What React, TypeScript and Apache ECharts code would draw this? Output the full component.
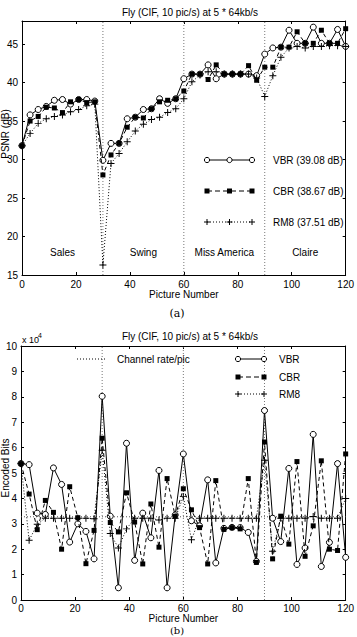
import React, { useEffect, useRef } from "react";
import * as echarts from "echarts";

const pictures = [0, 3, 6, 9, 12, 15, 18, 21, 24, 27, 30, 33, 36, 39, 42, 45, 48, 51, 54, 57, 60, 63, 66, 69, 72, 75, 78, 81, 84, 87, 90, 93, 96, 99, 102, 105, 108, 111, 114, 117, 120];

const psnrVBR = [31.8, 35.8, 36.5, 36.9, 37.7, 37.8, 37.2, 37.8, 37.8, 37.6, 29.9, 32.1, 32.1, 35.3, 35.5, 36.5, 36.6, 37.9, 37.3, 37.9, 40.5, 41.1, 41.1, 42.3, 40.5, 41.1, 41.1, 41.1, 41.1, 40.9, 43.7, 44.5, 44.6, 46.8, 45.1, 45.1, 47.2, 45.1, 45.1, 46.9, 44.7];
const psnrCBR = [31.8, 35.0, 35.6, 36.8, 36.7, 36.1, 37.5, 37.8, 37.4, 37.5, 28.0, 30.6, 32.1, 34.2, 35.5, 35.4, 36.6, 37.5, 37.7, 37.9, 38.9, 41.1, 41.1, 40.4, 42.3, 41.1, 41.1, 41.1, 42.2, 40.3, 42.0, 42.0, 44.6, 44.6, 46.6, 45.1, 45.1, 46.8, 45.1, 45.1, 47.0];
const psnrRM8 = [31.8, 33.4, 34.7, 35.3, 35.6, 35.8, 36.2, 36.5, 37.0, 37.2, 16.3, 29.5, 30.8, 32.3, 33.7, 34.6, 35.2, 35.5, 36.1, 36.6, 37.9, 40.1, 41.0, 41.4, 41.4, 41.1, 41.1, 41.1, 41.1, 40.6, 38.2, 40.9, 43.3, 44.5, 44.7, 44.5, 44.7, 44.7, 44.8, 44.8, 44.7];

const bitsVBR = [53700, 53300, 34200, 33700, 52000, 45500, 22800, 30000, 27000, 16200, 80200, 33000, 4800, 61700, 15600, 34200, 24500, 51000, 4800, 33500, 57500, 31200, 29200, 47300, 14600, 28200, 28600, 28500, 26600, 15200, 74600, 32200, 23000, 51800, 14000, 20500, 65200, 13200, 22700, 53700, 16800];
const bitsCBR = [53700, 41700, 27700, 39200, 34500, 20000, 44600, 32400, 14300, 27400, 63700, 30500, 26800, 42200, 30700, 14200, 37800, 20800, 47800, 33000, 43800, 35500, 28500, 14200, 47000, 27800, 28500, 28000, 47800, 14800, 62200, 16200, 33000, 22000, 54500, 17200, 29200, 54800, 20000, 19500, 57500];
const bitsRM8 = [53700, 23500, 29800, 32200, 32200, 32200, 32200, 32200, 32200, 32000, 59000, 26200, 20500, 28000, 32200, 32200, 32200, 31500, 32200, 32200, 40700, 23700, 32200, 32200, 32200, 32200, 32200, 32200, 32200, 32200, 55000, 19200, 32200, 32200, 32200, 32200, 32900, 32200, 32200, 32200, 40000];

const channelRate = 32768;
const sceneBoundaries = [30, 60, 90];
const sceneNames = ["Sales", "Swing", "Miss America", "Claire"];
const sceneCenters = [15, 45, 75, 105];

const titleText = "Fly (CIF, 10 pic/s) at 5 * 64kb/s";
const psnrLegend = ["VBR (39.08 dB)", "CBR (38.67 dB)", "RM8 (37.51 dB)"];
const bitsLegend = ["VBR", "CBR", "RM8"];

const FONT = "'Liberation Sans', Arial, Helvetica, sans-serif";
const PLUS = "path://M-0.14,-1L0.14,-1L0.14,-0.14L1,-0.14L1,0.14L0.14,0.14L0.14,1L-0.14,1L-0.14,0.14L-1,0.14L-1,-0.14L-0.14,-0.14Z";

export default function App() {
  const ref = useRef<HTMLDivElement>(null);
  useEffect(() => {
    const chart = echarts.init(ref.current!, null, { renderer: "svg" });
    const pair = (ys: number[]) => pictures.map((p, i) => [p, ys[i]]);

    const G1 = { left: 22, top: 21, width: 326, height: 254 };
    const G2 = { left: 21, top: 346, width: 327, height: 254 };

    const baseAxis = (extra: any) => ({
      type: "value",
      axisLine: { show: true, onZero: false, lineStyle: { color: "#000", width: 1 } },
      axisTick: { show: true, inside: true, length: 3, lineStyle: { color: "#000" } },
      splitLine: { show: false },
      axisLabel: { color: "#000", fontSize: 10, fontFamily: FONT, margin: 4 },
      ...extra,
    });
    const noLabel = { axisLabel: { show: false } };

    const xAxes = [
      baseAxis({ gridIndex: 0, min: 0, max: 120, interval: 20, position: "bottom", name: "Picture Number", nameLocation: "middle", nameGap: 13, nameTextStyle: { color: "#000", fontSize: 10, fontFamily: FONT } }),
      baseAxis({ gridIndex: 0, min: 0, max: 120, interval: 20, position: "top", ...noLabel }),
      baseAxis({ gridIndex: 1, min: 0, max: 120, interval: 20, position: "bottom", axisLabel: { color: "#000", fontSize: 10, fontFamily: FONT, margin: 3 }, name: "Picture Number", nameLocation: "middle", nameGap: 12, nameTextStyle: { color: "#000", fontSize: 10, fontFamily: FONT } }),
      baseAxis({ gridIndex: 1, min: 0, max: 120, interval: 20, position: "top", ...noLabel }),
    ];
    const yAxes = [
      baseAxis({ gridIndex: 0, min: 15, max: 48, interval: 5, position: "left", axisLabel: { color: "#000", fontSize: 10, fontFamily: FONT, margin: 4, showMaxLabel: false } }),
      baseAxis({ gridIndex: 0, min: 15, max: 48, interval: 5, position: "right", ...noLabel }),
      baseAxis({ gridIndex: 1, min: 0, max: 100000, interval: 10000, position: "left", axisLabel: { color: "#000", fontSize: 10, fontFamily: FONT, margin: 4, formatter: (v: number) => String(v / 10000) } }),
      baseAxis({ gridIndex: 1, min: 0, max: 100000, interval: 10000, position: "right", ...noLabel }),
    ];

    const vbr = (xi: number, yi: number, d: number[], name: string) => ({
      type: "line", name, xAxisIndex: xi, yAxisIndex: yi, data: pair(d),
      symbol: "circle", symbolSize: 6,
      itemStyle: { color: "#fff", borderColor: "#000", borderWidth: 1 },
      lineStyle: { color: "#000", width: 1 }, z: 3,
    });
    const cbr = (xi: number, yi: number, d: number[], name: string) => ({
      type: "line", name, xAxisIndex: xi, yAxisIndex: yi, data: pair(d),
      symbol: "rect", symbolSize: 5,
      itemStyle: { color: "#000" },
      lineStyle: { color: "#000", width: 1, type: [4, 3] }, z: 4,
    });
    const rm8 = (xi: number, yi: number, d: number[], name: string) => ({
      type: "line", name, xAxisIndex: xi, yAxisIndex: yi, data: pair(d),
      symbol: PLUS, symbolSize: 7,
      itemStyle: { color: "#000" },
      lineStyle: { color: "#000", width: 1, type: [1, 2] }, z: 5,
    });
    const sep = (xi: number, yi: number, x: number, lo: number, hi: number) => ({
      type: "line", xAxisIndex: xi, yAxisIndex: yi, data: [[x, lo], [x, hi]],
      symbol: "none", silent: true,
      lineStyle: { color: "#777", width: 1, type: [1, 2] }, z: 1,
    });

    const series: any[] = [
      ...sceneBoundaries.map((b) => sep(0, 0, b, 15, 48)),
      ...sceneBoundaries.map((b) => sep(2, 2, b, 0, 100000)),
      {
        type: "line", name: "Channel rate/pic", xAxisIndex: 2, yAxisIndex: 2,
        data: [[0, channelRate], [120, channelRate]], symbol: "none", silent: true,
        lineStyle: { color: "#555", width: 1, type: [1, 2] }, z: 2,
      },
      vbr(0, 0, psnrVBR, "VBR"),
      cbr(0, 0, psnrCBR, "CBR"),
      rm8(0, 0, psnrRM8, "RM8"),
      vbr(2, 2, bitsVBR, "VBR"),
      cbr(2, 2, bitsCBR, "CBR"),
      rm8(2, 2, bitsRM8, "RM8"),
    ];

    const txt = (x: number, y: number, text: string, extra: any = {}) => ({
      type: "text", x, y, silent: true,
      style: { text, fill: "#000", fontSize: 10, fontFamily: FONT, align: "left", verticalAlign: "middle", ...extra },
      z: 10,
    });
    const hline = (x1: number, x2: number, y: number, dash: any) => ({
      type: "line", shape: { x1, y1: y, x2, y2: y }, silent: true,
      style: { stroke: "#000", lineWidth: 1, lineDash: dash }, z: 10,
    });
    const circ = (x: number, y: number) => ({
      type: "circle", shape: { cx: x, cy: y, r: 2.6 }, silent: true,
      style: { fill: "#fff", stroke: "#000", lineWidth: 1 }, z: 11,
    });
    const sq = (x: number, y: number) => ({
      type: "rect", shape: { x: x - 2.5, y: y - 2.5, width: 5, height: 5 }, silent: true,
      style: { fill: "#000" }, z: 11,
    });
    const plus = (x: number, y: number) => ({
      type: "group", silent: true, z: 11,
      children: [
        { type: "line", shape: { x1: x - 3, y1: y, x2: x + 3, y2: y }, style: { stroke: "#000", lineWidth: 1 } },
        { type: "line", shape: { x1: x, y1: y - 3, x2: x, y2: y + 3 }, style: { stroke: "#000", lineWidth: 1 } },
      ],
    });

    const L1x = [207, 229.5, 252];
    const L1y = [160, 191, 222];
    const L2x = [238, 264];
    const L2y = [359, 377, 394];

    const graphic: any[] = [
      txt(190, 12, titleText, { align: "center" }),
      txt(190, 336, titleText, { align: "center" }),
      {
        type: "text", x: 5, y: 134, rotation: Math.PI / 2, silent: true,
        style: { text: "PSNR (dB)", fill: "#000", fontSize: 10, fontFamily: FONT, align: "center", verticalAlign: "middle" },
      },
      {
        type: "text", x: 5, y: 468, rotation: Math.PI / 2, silent: true,
        style: { text: "Encoded Bits", fill: "#000", fontSize: 10, fontFamily: FONT, align: "center", verticalAlign: "middle" },
      },
      txt(177, 313, "(a)", { align: "center", fontFamily: "'DejaVu Serif', 'Liberation Serif', serif", fontSize: 11 }),
      txt(177, 630.5, "(b)", { align: "center", fontFamily: "'DejaVu Serif', 'Liberation Serif', serif", fontSize: 10 }),
      txt(22, 340, "x 10", { fontSize: 9 }),
      txt(38, 335, "4", { fontSize: 7 }),
      hline(L1x[0], L1x[2], L1y[0], null),
      ...L1x.map((x) => circ(x, L1y[0])),
      hline(L1x[0], L1x[2], L1y[1], [5, 3]),
      ...L1x.map((x) => sq(x, L1y[1])),
      hline(L1x[0], L1x[2], L1y[2], [1, 2]),
      ...L1x.map((x) => plus(x, L1y[2])),
      txt(273, L1y[0], psnrLegend[0]),
      txt(273, L1y[1], psnrLegend[1]),
      txt(273, L1y[2], psnrLegend[2]),
      hline(77, 105, 359, [1, 2]),
      txt(117, 359, "Channel rate/pic"),
      hline(L2x[0], L2x[1], L2y[0], null),
      ...L2x.map((x) => circ(x, L2y[0])),
      hline(L2x[0], L2x[1], L2y[1], [5, 3]),
      ...L2x.map((x) => sq(x, L2y[1])),
      hline(L2x[0], L2x[1], L2y[2], [1, 2]),
      ...L2x.map((x) => plus(x, L2y[2])),
      txt(279, L2y[0], bitsLegend[0]),
      txt(279, L2y[1], bitsLegend[1]),
      txt(279, L2y[2], bitsLegend[2]),
    ];

    chart.setOption({
      animation: false,
      backgroundColor: "#fff",
      grid: [
        { ...G1, containLabel: false },
        { ...G2, containLabel: false },
      ],
      xAxis: xAxes,
      yAxis: yAxes,
      series,
      graphic,
    });

    const sceneGraphics = sceneNames.map((n, i) => {
      const p = chart.convertToPixel({ xAxisIndex: 0, yAxisIndex: 0 }, [sceneCenters[i], 17.9]) as number[];
      return txt(p[0], p[1], n, { align: "center" });
    });
    chart.setOption({ graphic: [...graphic, ...sceneGraphics] });

    return () => chart.dispose();
  }, []);
  return (
    <div
      ref={ref}
      style={{ position: "absolute", left: 0, top: 0, width: 357, height: 637, background: "#fff" }}
    />
  );
}
